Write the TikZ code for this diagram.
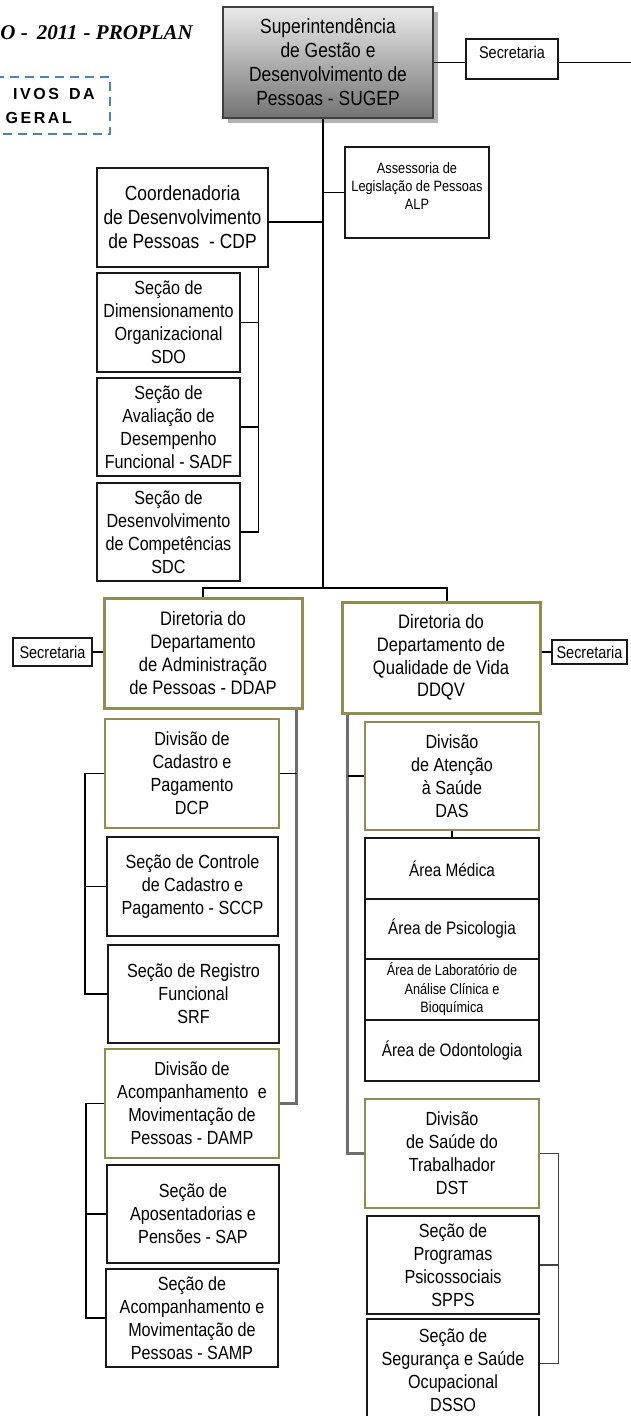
\documentclass[tikz,border=0pt]{standalone}
\usepackage{fontspec}
\setmainfont{Liberation Sans}[FakeStretch=0.85]
\newfontfamily\plainsans{Liberation Sans}
\newfontfamily\titleserif{Liberation Serif}
\usetikzlibrary{shadows}
\definecolor{olivebr}{HTML}{948A54}
\definecolor{dashblue}{HTML}{4F81BD}
\definecolor{lgray}{HTML}{6E6E6E}
\definecolor{dgray}{HTML}{404040}
\newcommand\fsNorm{\fontsize{19pt}{23pt}\selectfont}
\newcommand\fsBig{\fontsize{20.5pt}{24pt}\selectfont}
\newcommand\fsDir{\fontsize{19.5pt}{22.7pt}\selectfont}
\newcommand\fsSmall{\fontsize{15pt}{18pt}\selectfont}
\newcommand\fsLab{\fontsize{15pt}{18.5pt}\selectfont}
\newcommand\fsArea{\fontsize{18pt}{22pt}\selectfont}
\newcommand\fsSec{\fontsize{17pt}{20pt}\selectfont}
\newcommand\fsObj{\plainsans\bfseries\fontsize{16pt}{19pt}\selectfont\addfontfeature{LetterSpace=16}}
\tikzset{
  box/.style={draw=black!90, line width=1.1pt, fill=white, inner sep=1pt, align=center, font=\fsNorm},
  obox/.style={box, draw=olivebr},
  dbox/.style={box, draw=olivebr, line width=3pt, font=\fsDir},
  topbox/.style={draw=dgray, line width=2pt, top color=black!8, bottom color=black!55,
    drop shadow={shadow xshift=5pt, shadow yshift=-5pt, fill=black!30, opacity=1},
    inner sep=1pt, align=center, font=\fsBig},
  secbox/.style={box, font=\fsSec},
  conn/.style={draw=black, line width=1.1pt},
  mainline/.style={draw=black, line width=1.8pt},
  gline/.style={draw=lgray, line width=2.2pt},
  rline/.style={draw=dgray, line width=1.1pt},
}
\begin{document}
\begin{tikzpicture}[x=1pt,y=-1pt]
\useasboundingbox (0,0) rectangle (631,1416);

% header texts
\node[anchor=base east, inner sep=0, font=\titleserif\bfseries\itshape\fontsize{21pt}{25pt}\selectfont] (hdr) at (193,39.5)
  {O -\hspace{9pt}2011\hspace{6pt}- PROPLAN};
\draw[dashblue, line width=2pt, dash pattern=on 9pt off 6pt] (-5,77) -- (110,77) -- (110,134) -- (-5,134);
\node[anchor=base east, inner sep=0, font=\fsObj] (obj1) at (95,99) {IVOS\hspace{10pt}DA};
\node[anchor=base east, inner sep=0, font=\fsObj] (obj2) at (72,123) {GERAL};

% top
\node[topbox, minimum width=210, minimum height=111] (sugep) at (328,62.5)
  {Superintendência\\de Gestão e\\Desenvolvimento de\\Pessoas - SUGEP};
\node[secbox, minimum width=92, minimum height=40, text height=12.5pt, text depth=14pt] (sec1) at (512,59) {Secretaria};
\coordinate (edgeR) at (632,62.5);
\coordinate (j1) at (323,588);

\node[box, minimum width=144, minimum height=91] (alp) at (417,192.5) {};
\node[inner sep=0, align=center, font=\fsSmall] (alpt) at (417,186) {Assessoria de\\Legislação de Pessoas\\ALP};

\node[box, font=\fsBig, minimum width=171, minimum height=99] (cdp) at (182.5,217.5)
  {Coordenadoria\\de Desenvolvimento\\de Pessoas\hspace{5pt} - CDP};
\node[box, minimum width=143, minimum height=99] (sdo) at (168.5,322.5)
  {Seção de\\Dimensionamento\\Organizacional\\SDO};
\node[box, minimum width=143, minimum height=98] (sadf) at (168.5,427)
  {Seção de\\Avaliação de\\Desempenho\\Funcional - SADF};
\node[box, minimum width=143, minimum height=98] (sdc) at (168.5,532)
  {Seção de\\Desenvolvimento\\de Competências\\SDC};

% directorates
\node[dbox, minimum width=198, minimum height=110] (ddap) at (203,653)
  {Diretoria do\\Departamento\\de Administração\\de Pessoas - DDAP};
\node[secbox, minimum width=79, minimum height=28] (sec2) at (52.5,652) {Secretaria};
\node[dbox, minimum width=198, minimum height=111] (ddqv) at (441,657.5)
  {Diretoria do\\Departamento de\\Qualidade de Vida\\DDQV};
\node[secbox, minimum width=75, minimum height=24] (sec3) at (589.5,652) {Secretaria};

% left column
\node[obox, minimum width=174, minimum height=109] (dcp) at (192,773.5)
  {Divisão de\\Cadastro e\\Pagamento\\DCP};
\node[box, minimum width=171, minimum height=99] (sccp) at (192.5,886.5)
  {Seção de Controle\\de Cadastro e\\Pagamento - SCCP};
\node[box, minimum width=171, minimum height=98] (srf) at (193.5,994)
  {Seção de Registro\\Funcional\\SRF};
\node[obox, minimum width=174, minimum height=109] (damp) at (192,1103.5)
  {Divisão de\\Acompanhamento\hspace{5pt} e\\Movimentação de\\Pessoas - DAMP};
\node[box, minimum width=172, minimum height=98] (sap) at (193,1214)
  {Seção de\\Aposentadorias e\\Pensões - SAP};
\node[box, minimum width=172, minimum height=98] (samp) at (192,1318)
  {Seção de\\Acompanhamento e\\Movimentação de\\Pessoas - SAMP};

% right column
\node[obox, minimum width=174, minimum height=108] (das) at (452,776)
  {Divisão\\de Atenção\\à Saúde\\DAS};
\node[box, font=\fsArea, minimum width=174, minimum height=61] (amed) at (452,868.5) {Área Médica};
\node[box, font=\fsArea, minimum width=174, minimum height=60] (apsi) at (452,929) {Área de Psicologia};
\node[box, font=\fsLab, minimum width=174, minimum height=61] (alab) at (452,989.5)
  {Área de Laboratório de\\Análise Clínica e\\Bioquímica};
\node[box, font=\fsArea, minimum width=174, minimum height=61] (aodo) at (452,1050.5) {Área de Odontologia};
\node[obox, minimum width=174, minimum height=109] (dst) at (452,1153.5)
  {Divisão\\de Saúde do\\Trabalhador\\DST};
\node[box, minimum width=172, minimum height=98] (spps) at (453,1265)
  {Seção de\\Programas\\Psicossociais\\SPPS};
\node[box, minimum width=172, minimum height=103] (dsso) at (453,1370.5)
  {Seção de\\Segurança e Saúde\\Ocupacional\\DSSO};

% connectors
\draw[conn] (sugep.east) -- (sugep.east -| sec1.west);
\draw[conn] (sec1.east |- sugep.east) -- (edgeR);
\draw[mainline] ([xshift=-5pt]sugep.south) -- (j1);
\draw[conn] (alp.west -| j1) -- (alp.west);
\draw[conn] ([yshift=-4.5pt]cdp.east) -- ([yshift=-4.5pt]cdp.east -| j1);
\coordinate (cbr) at ([xshift=-10pt]cdp.south east);
\draw[conn] (sdo.east) -| (cbr);
\draw[conn] (sadf.east) -| (cbr);
\draw[conn] (sdc.east) -| (cbr);
\draw[conn] (j1) -| (ddap.north);
\draw[conn] (j1) -| ([xshift=6pt]ddqv.north);
\draw[conn] (sec2.east) -- (sec2.east -| ddap.west);
\draw[conn] (ddqv.east |- sec3.west) -- (sec3.west);

\coordinate (dbr) at ([xshift=-7pt]ddap.south east);
\draw[gline] (dbr) |- (damp.east);
\draw[conn] (dcp.east) -- (dcp.east -| dbr);
\coordinate (lb1) at (85,0);
\draw[conn] (dcp.west) -| (lb1 |- srf.west) -- (srf.west);
\draw[conn] (sccp.west) -- (sccp.west -| lb1);
\coordinate (lb2) at (86,0);
\draw[conn] (damp.west) -| (lb2 |- samp.west) -- (samp.west);
\draw[conn] (sap.west) -- (sap.west -| lb2);

\coordinate (qbr) at ([xshift=7pt]ddqv.south west);
\draw[gline] (qbr) |- (dst.west);
\draw[conn] (das.west) -- (das.west -| qbr);
\draw[conn] (das.south) -- (amed.north);
\coordinate (rbr) at ([xshift=19pt]dst.east);
\draw[rline] (dst.east) -- (rbr) |- ([yshift=7pt]dsso.east);
\draw[rline] (spps.east) -- (spps.east -| rbr);
\end{tikzpicture}
\end{document}
